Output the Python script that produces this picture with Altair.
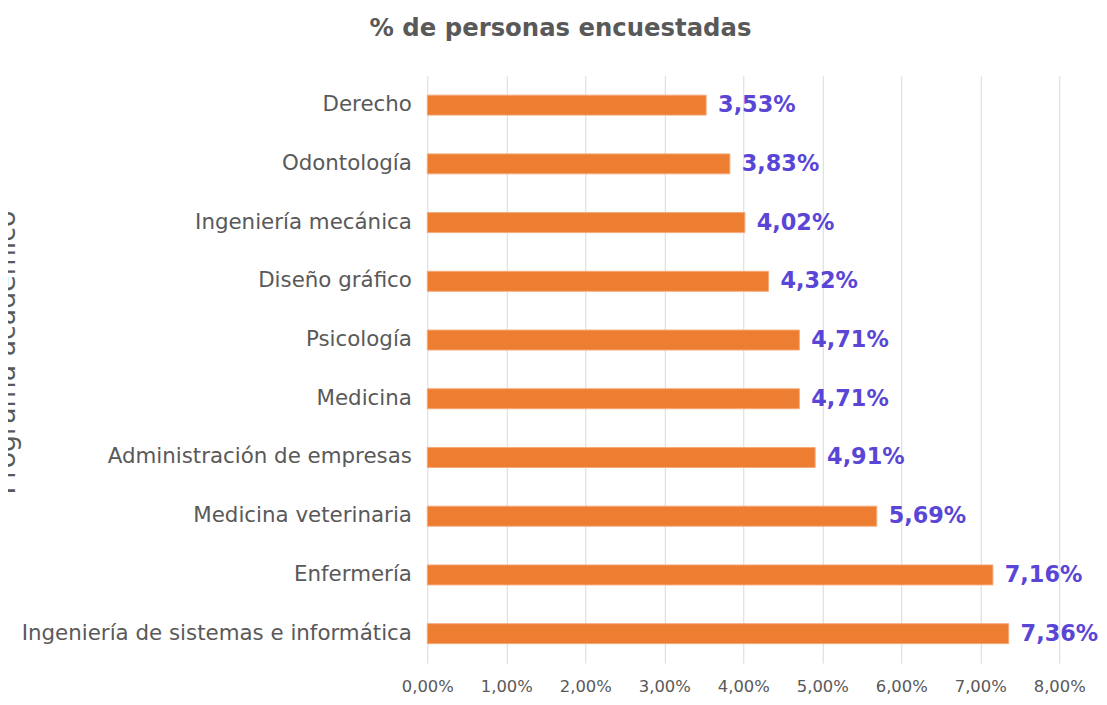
import altair as alt
import pandas as pd

programas = [
    "Derecho",
    "Odontología",
    "Ingeniería mecánica",
    "Diseño gráfico",
    "Psicología",
    "Medicina",
    "Administración de empresas",
    "Medicina veterinaria",
    "Enfermería",
    "Ingeniería de sistemas e informática",
]
porcentajes = [3.53, 3.83, 4.02, 4.32, 4.71, 4.71, 4.91, 5.69, 7.16, 7.36]
etiquetas = ["3,53%", "3,83%", "4,02%", "4,32%", "4,71%", "4,71%", "4,91%", "5,69%", "7,16%", "7,36%"]
ticks_x = [0, 1, 2, 3, 4, 5, 6, 7, 8]

df = pd.DataFrame({"programa": programas, "valor": porcentajes, "etiqueta": etiquetas})

FONT = "DejaVu Sans"
GRAY = "#595959"

y_enc = alt.Y(
    "programa:N",
    sort=programas,
    scale=alt.Scale(paddingInner=0.66, paddingOuter=0.33),
    axis=alt.Axis(
        title="Programa académico",
        titleFont=FONT,
        titleFontSize=27,
        titleFontWeight="normal",
        titleColor=GRAY,
        titleAngle=-90,
        titleX=-415,
        titleY=278,
        titleAlign="center",
        titleBaseline="alphabetic",
        labelFont=FONT,
        labelFontSize=21.5,
        labelColor=GRAY,
        labelPadding=16,
        labelLimit=0,
        ticks=False,
        domain=False,
        grid=False,
    ),
)

x_enc = alt.X(
    "valor:Q",
    scale=alt.Scale(domain=[0, 8], nice=False),
    axis=alt.Axis(
        title=None,
        values=ticks_x,
        labelExpr="replace(format(datum.value, '.2f'), '.', ',') + '%'",
        labelFont=FONT,
        labelFontSize=16.5,
        labelColor=GRAY,
        labelPadding=16,
        labelOverlap=False,
        labelFlush=False,
        ticks=False,
        domain=False,
        grid=True,
        gridColor="#D9D9D9",
        gridWidth=1,
    ),
)

bars = alt.Chart(df).mark_bar(
    color="#ED7D31", stroke="#F4A97A", strokeWidth=1
).encode(x=x_enc, y=y_enc)

labels = alt.Chart(df).mark_text(
    align="left", baseline="middle", dx=12,
    font=FONT, fontSize=22.5, fontWeight="bold", color="#5A46D6"
).encode(x="valor:Q", y=alt.Y("programa:N", sort=programas), text="etiqueta:N")

chart = (
    alt.layer(bars, labels)
    .properties(
        width=636,
        height=591,
        background="white",
        title=alt.TitleParams(
            text="% de personas encuestadas",
            font=FONT,
            fontSize=24.5,
            fontWeight="bold",
            color=GRAY,
            anchor="middle",
            frame="group",
            dx=-184,
            offset=35,
        ),
        autosize=alt.AutoSizeParams(type="none"),
        padding={"left": 422, "top": 66, "right": 40, "bottom": 32},
    )
    .configure_view(strokeWidth=0, stroke="transparent")
)

chart.save("out.html", embed_options={"renderer": "svg", "actions": False})
